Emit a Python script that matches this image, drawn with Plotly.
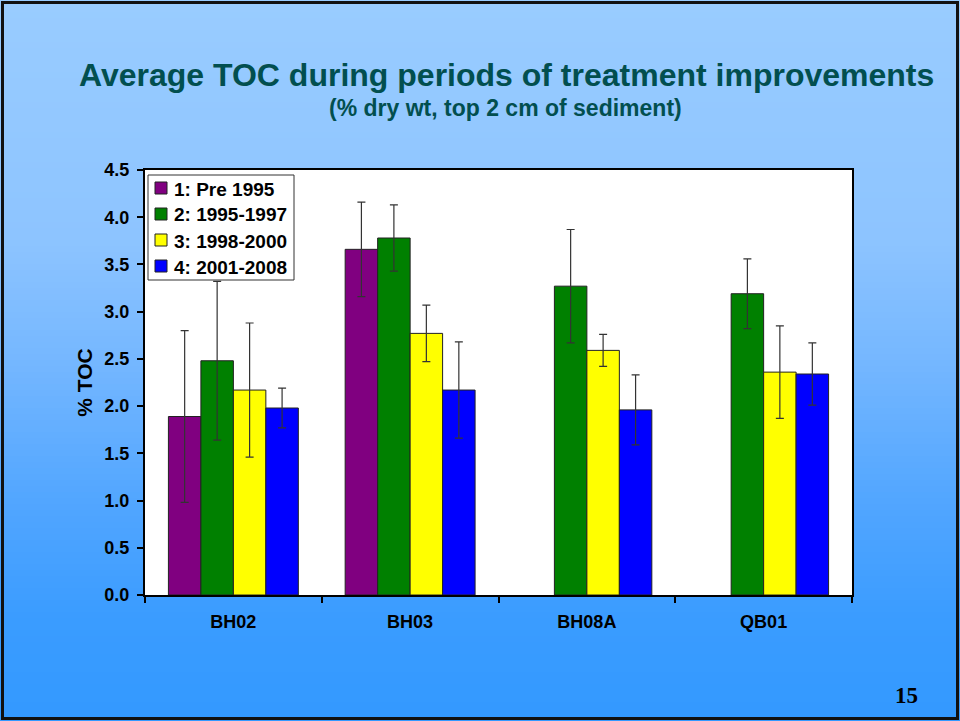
import plotly.graph_objects as go

# ---------------- data ----------------
sites = ["BH02", "BH03", "BH08A", "QB01"]
series_names = ["1: Pre 1995", "2: 1995-1997", "3: 1998-2000", "4: 2001-2008"]
pre1995 = [1.89, 3.66, None, None]
p1995_1997 = [2.48, 3.78, 3.27, 3.19]
p1998_2000 = [2.17, 2.77, 2.59, 2.36]
p2001_2008 = [1.98, 2.17, 1.96, 2.34]
err_pre1995 = [0.91, 0.50, None, None]
err_1995_1997 = [0.84, 0.35, 0.60, 0.37]
err_1998_2000 = [0.71, 0.30, 0.17, 0.49]
err_2001_2008 = [0.21, 0.51, 0.37, 0.33]
y_ticks = [0.0, 0.5, 1.0, 1.5, 2.0, 2.5, 3.0, 3.5, 4.0, 4.5]
y_tick_labels = ["0.0", "0.5", "1.0", "1.5", "2.0", "2.5", "3.0", "3.5", "4.0", "4.5"]

values = [pre1995, p1995_1997, p1998_2000, p2001_2008]
errors = [err_pre1995, err_1995_1997, err_1998_2000, err_2001_2008]
colors = ["#800080", "#008000", "#FFFF00", "#0000FF"]

# ---------------- layout geometry ----------------
W, H = 960, 721
L, R, T, B = 145, 852, 170, 595  # plot area in pixels
pw, ph = R - L, B - T

def px(x):
    return (x - L) / pw

def py(y):
    return (B - y) / ph

FONT = "Arial, 'Liberation Sans', Helvetica, sans-serif"

fig = go.Figure()
for name, vals, errs, col in zip(series_names, values, errors, colors):
    fig.add_trace(go.Bar(
        name=name, x=sites, y=vals, showlegend=False,
        marker=dict(color=col, line=dict(color="#222222", width=1)),
        error_y=dict(type="data", array=[e if e is not None else 0 for e in errs],
                     visible=True, color="#333333", thickness=1.2, width=4),
    ))

# ---------------- background gradient ----------------
stops = [(0, (153, 204, 255)), (240, (141, 196, 255)), (360, (117, 183, 255)),
         (500, (82, 166, 255)), (620, (58, 156, 255)), (721, (51, 153, 255))]

def color_at(y):
    for (y0, c0), (y1, c1) in zip(stops[:-1], stops[1:]):
        if y0 <= y <= y1:
            t = (y - y0) / (y1 - y0)
            return tuple(round(a + (b - a) * t) for a, b in zip(c0, c1))
    return stops[-1][1]

shapes = []
step = 6
for y in range(0, H, step):
    c = color_at(y + step / 2)
    shapes.append(dict(type="rect", xref="paper", yref="paper", layer="below",
                       x0=px(0), x1=px(W), y0=py(y + step + 1), y1=py(y),
                       fillcolor="rgb(%d,%d,%d)" % c, line=dict(width=0)))
# white plot area
shapes.append(dict(type="rect", xref="paper", yref="paper", layer="below",
                   x0=0, x1=1, y0=0, y1=1, fillcolor="white", line=dict(width=0)))
# slide frame
shapes.append(dict(type="rect", xref="paper", yref="paper", layer="above",
                   x0=px(2.5), x1=px(957.5), y0=py(718.5), y1=py(2.5),
                   line=dict(color="#111111", width=3)))

annotations = [
    dict(text="<b>Average TOC during periods of treatment improvements</b>",
         x=px(506), y=py(75), xref="paper", yref="paper", showarrow=False,
         font=dict(family=FONT, size=32, color="#024F4F"), xanchor="center", yanchor="middle"),
    dict(text="<b>(% dry wt, top 2 cm of sediment)</b>",
         x=px(505), y=py(108), xref="paper", yref="paper", showarrow=False,
         font=dict(family=FONT, size=23, color="#024F4F"), xanchor="center", yanchor="middle"),
    dict(text="<b>15</b>", x=px(907), y=py(695), xref="paper", yref="paper", showarrow=False,
         font=dict(family="'Liberation Serif', 'Times New Roman', serif", size=23, color="black"),
         xanchor="center", yanchor="middle"),
]

# ---------------- legend (box, swatches, labels) ----------------
LG_L, LG_R, LG_T, LG_B = 148, 294, 175, 280
row0, row_gap = 188, 26
shapes.append(dict(type="rect", xref="paper", yref="paper", layer="above",
                   x0=px(LG_L), x1=px(LG_R), y0=py(LG_B), y1=py(LG_T),
                   fillcolor="white", line=dict(color="#333333", width=1)))
for i, (name, col) in enumerate(zip(series_names, colors)):
    yc = row0 + i * row_gap
    shapes.append(dict(type="rect", xref="paper", yref="paper", layer="above",
                       x0=px(155), x1=px(167), y0=py(yc + 6), y1=py(yc - 6),
                       fillcolor=col, line=dict(color="#222222", width=1)))
    annotations.append(dict(text="<b>%s</b>" % name, x=px(172), y=py(yc + 1),
                            xref="paper", yref="paper", showarrow=False,
                            xanchor="left", yanchor="middle",
                            font=dict(family=FONT, size=19, color="black")))

fig.update_layout(
    width=W, height=H,
    margin=dict(l=L, r=W - R, t=T, b=H - B, pad=0),
    paper_bgcolor="rgb(90,170,255)",
    plot_bgcolor="rgba(0,0,0,0)",
    barmode="group", bargap=0.265, bargroupgap=0,
    showlegend=False,
    shapes=shapes,
    annotations=annotations,
    font=dict(family=FONT, color="black"),
)

fig.update_xaxes(
    showline=True, linecolor="black", linewidth=2, mirror=True,
    ticks="outside", tickson="boundaries", ticklen=6, tickwidth=2, tickcolor="black",
    tickfont=dict(family=FONT, size=18, color="black", weight="bold"),
    ticklabelstandoff=9,
    showgrid=False, zeroline=False,
)
fig.update_yaxes(
    range=[0, 4.5], tickvals=y_ticks, ticktext=y_tick_labels,
    showline=True, linecolor="black", linewidth=2, mirror=True,
    ticks="outside", ticklen=6, tickwidth=2, tickcolor="black",
    tickfont=dict(family=FONT, size=18, color="black", weight="bold"),
    ticklabelstandoff=4,
    showgrid=False, zeroline=False,
    title=dict(text="% TOC", font=dict(family=FONT, size=21, color="black", weight="bold"),
               standoff=6),
)

fig.write_html("out.html", config={"displayModeBar": False},
               post_script="document.body.style.margin='0';")
